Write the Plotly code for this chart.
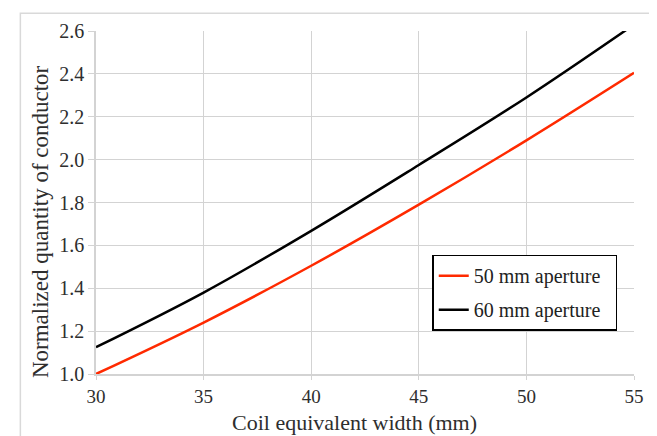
import plotly.graph_objects as go

width_mm = [30, 35, 40, 45, 50, 55]
aperture_50 = [1.00, 1.24, 1.505, 1.79, 2.09, 2.405]
aperture_60 = [1.125, 1.38, 1.668, 1.975, 2.29, 2.63]
x_ticks = [30, 35, 40, 45, 50, 55]
y_ticks = [1.0, 1.2, 1.4, 1.6, 1.8, 2.0, 2.2, 2.4, 2.6]
x_title = "Coil equivalent width (mm)"
y_title = "Normalized quantity of conductor"

FONT = "Liberation Serif"
GRID = "#d3d3d3"
TXT = "#2e2e2e"

fig = go.Figure()
fig.add_trace(go.Scatter(x=width_mm, y=aperture_50, mode="lines", name="50 mm aperture\u00a0\u00a0",
                         line=dict(color="#ff2a00", width=2.5, shape="spline"),
                         legendgroup="a"))
fig.add_trace(go.Scatter(x=width_mm, y=aperture_60, mode="lines", name="60 mm aperture\u00a0\u00a0",
                         line=dict(color="#000000", width=2.5, shape="spline"),
                         legendgroup="b"))

fig.update_layout(
    width=649, height=428,
    margin=dict(l=88, r=23, t=19, b=62),
    paper_bgcolor="white", plot_bgcolor="white",
    font=dict(family=FONT, size=20, color=TXT),
    showlegend=True,
    legend=dict(x=0.625, y=0.348, xanchor="left", yanchor="top",
                bordercolor="#000000", borderwidth=1.5, bgcolor="white",
                font=dict(family=FONT, size=20, color="#222222"),
                traceorder="grouped", tracegroupgap=5),
    xaxis=dict(range=[30, 55], tickvals=x_ticks, ticktext=[str(v) for v in x_ticks],
               showgrid=True, gridcolor=GRID, gridwidth=1.2,
               showline=True, linecolor=GRID, linewidth=1.5,
               ticks="outside", ticklen=4, tickcolor=GRID,
               tickfont=dict(size=19, family=FONT, color=TXT),
               zeroline=False),
    yaxis=dict(range=[1.0, 2.6], tickvals=y_ticks, ticktext=[f"{v:.1f}" for v in y_ticks],
               showgrid=True, gridcolor=GRID, gridwidth=1.2,
               showline=True, linecolor=GRID, linewidth=1.5,
               ticks="outside", ticklen=6, tickcolor=GRID,
               tickfont=dict(size=20, family=FONT, color=TXT),
               zeroline=False),
)

fig.add_annotation(text=x_title, xref="paper", yref="paper", x=0.4796, y=0,
                   xanchor="center", yanchor="middle", yshift=-48, showarrow=False,
                   font=dict(size=22, family=FONT, color=TXT))
fig.add_annotation(text=y_title, xref="paper", yref="paper", x=0, y=0.443,
                   xanchor="center", yanchor="middle", xshift=-56, textangle=-90,
                   showarrow=False, font=dict(size=23, family=FONT, color=TXT))

fig.add_shape(type="rect", xref="paper", yref="paper",
              x0=-0.1406, x1=1.2, y0=-0.5, y1=1.052,
              line=dict(color="#d9d9d9", width=1.5), layer="below")

fig.write_html("out.html")
